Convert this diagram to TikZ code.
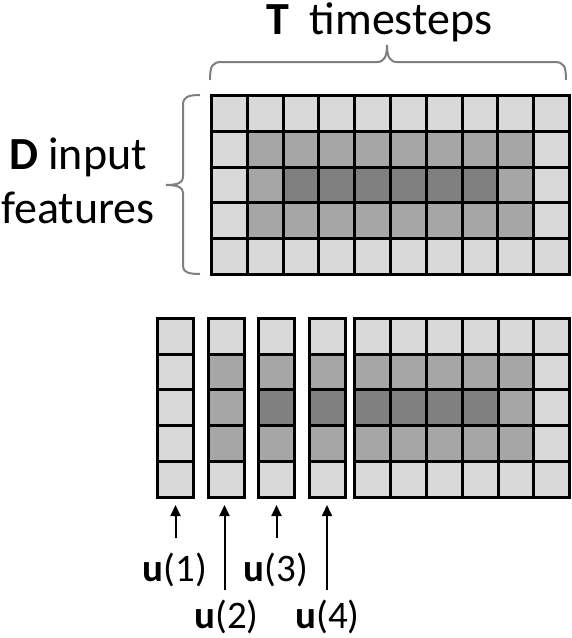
\documentclass[tikz,border=0pt]{standalone}
\usepackage{fontspec}
\setmainfont{Carlito}
\usetikzlibrary{arrows.meta}
\definecolor{c0}{HTML}{D9D9D9}
\definecolor{c1}{HTML}{A6A6A6}
\definecolor{c2}{HTML}{808080}
\definecolor{bracecol}{HTML}{7F7F7F}
\tikzset{
 gridln/.style={draw=black,line width=3pt},
 bracestyle/.style={draw=bracecol,line width=2pt},
 uarrow/.style={draw=black,line width=2pt,-{Triangle[length=11pt,width=10pt]}},
 bigtext/.style={font=\fontsize{46}{55}\selectfont,inner sep=0pt},
 utext/.style={font=\fontsize{39}{46}\selectfont,inner sep=0pt},
}
\begin{document}
\begin{tikzpicture}[x=1pt,y=-1pt]
\useasboundingbox (0,0) rectangle (572,638);
\def\s{35.8}
% top grid
\foreach \row [count=\r from 0] in {{0,0,0,0,0,0,0,0,0,0},{0,1,1,1,1,1,1,1,1,0},{0,1,2,2,2,2,2,2,1,0},{0,1,1,1,1,1,1,1,1,0},{0,0,0,0,0,0,0,0,0,0}}{
  \foreach \v [count=\c from 0] in \row {
    \fill[c\v] (211.5+\c*\s,95.5+\r*\s) rectangle ++(\s,\s);
  }
}
\foreach \r in {0,...,4}{
  \foreach \c in {0,...,9}{
    \draw[gridln] (211.5+\c*\s,95.5+\r*\s) rectangle ++(\s,\s);
  }
}
% bottom single columns
\foreach \x/\col in {157.5/{0,0,0,0,0},208.2/{0,1,1,1,0},258.5/{0,1,2,1,0},309.3/{0,1,2,1,0}}{
  \foreach \v [count=\r from 0] in \col {
    \fill[c\v] (\x,318.2+\r*\s) rectangle ++(36.3,\s);
  }
  \foreach \r in {0,...,4}{
    \draw[gridln] (\x,318.2+\r*\s) rectangle ++(36.3,\s);
  }
}
% bottom grid
\foreach \row [count=\r from 0] in {{0,0,0,0,0,0},{1,1,1,1,1,0},{2,2,2,2,1,0},{1,1,1,1,1,0},{0,0,0,0,0,0}}{
  \foreach \v [count=\c from 0] in \row {
    \fill[c\v] (354.8+\c*\s,318.2+\r*\s) rectangle ++(\s,\s);
  }
}
\foreach \r in {0,...,4}{
  \foreach \c in {0,...,5}{
    \draw[gridln] (354.8+\c*\s,318.2+\r*\s) rectangle ++(\s,\s);
  }
}
% braces
\draw[bracestyle] (210,80) .. controls (210,66) and (212,62) .. (222,62) -- (377,62)
  .. controls (384,62) and (387,57) .. (387,45) .. controls (387,57) and (390,62) .. (397,62)
  -- (554,62) .. controls (564,62) and (566,66) .. (566,80);
\draw[bracestyle] (200,95) .. controls (188,95) and (183,97) .. (183,105) -- (183,177)
  .. controls (183,182) and (179,185) .. (166,185) .. controls (179,185) and (183,188) .. (183,193)
  -- (183,266) .. controls (183,272) and (188,274) .. (200,274);
% texts
\node[bigtext,anchor=base west] (ttl) at (266,34) {\textbf{T}\hspace{0.45em}timesteps};
\node[bigtext,anchor=base] (dlbl) at (78,169) {\textbf{D} input};
\node[bigtext,anchor=base] (flbl) at (78,223) {features};
% labels and arrows
\node[utext] (u1) at (175,570) {\textbf{u}(1)};
\node[utext] (u2) at (226.5,617) {\textbf{u}(2)};
\node[utext] (u3) at (276,570) {\textbf{u}(3)};
\node[utext] (u4) at (327.5,617) {\textbf{u}(4)};
\coordinate (a1s) at (175.5,538); \coordinate (a1e) at (175.5,505);
\coordinate (a2s) at (224.5,590); \coordinate (a2e) at (224.5,505);
\coordinate (a3s) at (276.5,538); \coordinate (a3e) at (276.5,505);
\coordinate (a4s) at (327,590); \coordinate (a4e) at (327,505);
\draw[uarrow] (a1s) -- (a1e);
\draw[uarrow] (a2s) -- (a2e);
\draw[uarrow] (a3s) -- (a3e);
\draw[uarrow] (a4s) -- (a4e);
\end{tikzpicture}
\end{document}
